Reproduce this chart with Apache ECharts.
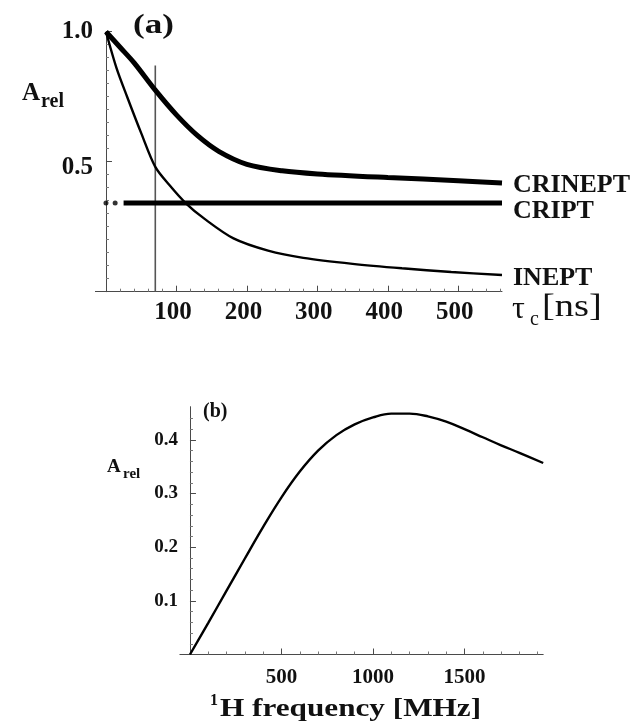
<!DOCTYPE html>
<html>
<head>
<meta charset="utf-8">
<script src="https://cdn.jsdelivr.net/npm/echarts@6/dist/echarts.min.js"></script>
<style>
  html, body { margin: 0; padding: 0; background: #fff; }
  #chart { width: 641px; height: 727px; }
</style>
</head>
<body>
<div id="chart"></div>
<script>
// ---- Panel (a): relative transfer amplitude vs. rotational correlation time ----
const tauIneptNs   = [0, 15, 30, 50, 70, 90, 113, 140, 181, 230, 280, 350, 420, 490, 562];
const ineptArel    = [1.0, 0.86, 0.75, 0.61, 0.48, 0.41, 0.341, 0.28, 0.205, 0.158, 0.13, 0.107, 0.09, 0.076, 0.064];
const tauCrineptNs = [0, 20, 40, 70, 100, 130, 160, 200, 250, 300, 400, 500, 562];
const crineptArel  = [1.0, 0.94, 0.88, 0.775, 0.68, 0.60, 0.54, 0.49, 0.465, 0.453, 0.439, 0.427, 0.418];
const criptArel    = 0.341;
const criptSolidNs = [25, 562];
const criptDotNs   = [0, 13];
const markerTauNs  = 70;
const markerTop    = 0.87;
const tauMajor     = [100, 200, 300, 400, 500];
const tauMinor     = [20, 40, 60, 80, 120, 140, 160, 180, 220, 240, 260, 280, 320, 340, 360, 380, 420, 440, 460, 480, 520, 540, 560];
const arelAMajor   = [0.5, 1.0];
const arelAMinor   = [0.05, 0.1, 0.15, 0.2, 0.25, 0.3, 0.35, 0.4, 0.45, 0.55, 0.6, 0.65, 0.7, 0.75, 0.8, 0.85, 0.9, 0.95];

// ---- Panel (b): relative amplitude vs. 1H frequency ----
const freqMHz  = [0, 100, 200, 300, 400, 500, 600, 700, 800, 900, 1000, 1100, 1200, 1300, 1400, 1500, 1600, 1700, 1800, 1930];
const arelFreq = [0, 0.059, 0.119, 0.179, 0.238, 0.293, 0.341, 0.38, 0.409, 0.429, 0.442, 0.449, 0.449, 0.444, 0.434, 0.42, 0.405, 0.39, 0.376, 0.357];
const freqMajor = [500, 1000, 1500];
const freqMinor = [100, 200, 300, 400, 600, 700, 800, 900, 1100, 1200, 1300, 1400, 1600, 1700, 1800, 1900];
const arelBMajor = [0.1, 0.2, 0.3, 0.4];
const arelBMinor = [0.02, 0.04, 0.06, 0.08, 0.12, 0.14, 0.16, 0.18, 0.22, 0.24, 0.26, 0.28, 0.32, 0.34, 0.36, 0.38, 0.42, 0.44];

const SERIF = '"Liberation Serif", "Times New Roman", serif';
const AXIS_COLOR = '#4a4a4a';
const zip = (xs, ys) => xs.map((x, i) => [x, ys[i]]);

function valueAxis(grid, min, max, majors, minors, labelSize, margin, fmt, extra) {
  // major ticks + labels, then a second overlay axis carrying the minor ticks
  const label = Object.assign({
    show: true, customValues: majors, margin: margin, formatter: fmt,
    fontFamily: SERIF, fontWeight: 'bold', fontSize: labelSize, color: '#111',
    showMinLabel: true, showMaxLabel: true
  }, extra || {});
  return [
    {
      gridIndex: grid, type: 'value', min: min, max: max,
      axisLine: { show: true, onZero: true, lineStyle: { color: AXIS_COLOR, width: 1 } },
      axisTick: { show: true, inside: true, length: 6, customValues: majors, lineStyle: { color: AXIS_COLOR, width: 1 } },
      axisLabel: label,
      splitLine: { show: false }
    },
    {
      gridIndex: grid, type: 'value', min: min, max: max,
      axisLine: { show: false, onZero: true },
      axisTick: { show: true, inside: true, length: 3, customValues: minors, lineStyle: { color: '#777', width: 1 } },
      axisLabel: { show: false },
      splitLine: { show: false }
    }
  ];
}

const lowLabel = { rich: { lo: { fontFamily: SERIF, fontWeight: 'bold', fontSize: 25, color: '#111', padding: [12, 0, 0, 0] } } };
// y labels are laid out from the grid edge, while the axis line sits on x = 0
const xA = valueAxis(0, -15, 562, tauMajor, tauMinor, 25, 8, v => String(v), { padding: [0, 7, 0, 0] });
const yA = valueAxis(0, 0, 1.0, arelAMajor, arelAMinor, 25, 2.5,
  v => (v < 1 ? '{lo|' + v.toFixed(1) + '}' : v.toFixed(1)), lowLabel);
const xB = valueAxis(1, -55, 1930, freqMajor, freqMinor, 21, 13, v => String(v));
const yB = valueAxis(1, 0, 0.462, arelBMajor, arelBMinor, 19, 2, v => v.toFixed(1));
[...xA, ...xB].forEach(a => { a.position = 'bottom'; });
[...yA, ...yB].forEach(a => { a.position = 'left'; });

const endLabel = (dy) => ({
  show: true, formatter: p => p.seriesName, distance: 11, offset: [0, dy],
  fontFamily: SERIF, fontWeight: 'bold', fontSize: 26, color: '#111'
});

const chart = echarts.init(document.getElementById('chart'), null, { renderer: 'canvas' });

chart.setOption({
  animation: false,
  backgroundColor: '#ffffff',
  grid: [
    { left: 95.4, top: 31.7, width: 406.6, height: 260, containLabel: false, outerBoundsMode: 'none' },
    { left: 179.9, top: 406.7, width: 363.3, height: 247.8, containLabel: false, outerBoundsMode: 'none' }
  ],
  xAxis: [...xA, ...xB],
  yAxis: [...yA, ...yB],
  series: [
    {
      name: 'marker', type: 'line', xAxisIndex: 0, yAxisIndex: 0,
      data: [[markerTauNs, 0], [markerTauNs, markerTop]],
      symbol: 'none', lineStyle: { color: '#555', width: 1.6 }, z: 1
    },
    {
      name: 'CRINEPT', type: 'line', xAxisIndex: 0, yAxisIndex: 0,
      data: zip(tauCrineptNs, crineptArel), smooth: 0.3,
      symbol: 'none', lineStyle: { color: '#000', width: 5 },
      endLabel: endLabel(2), z: 3
    },
    {
      name: 'CRIPT', type: 'line', xAxisIndex: 0, yAxisIndex: 0,
      data: criptSolidNs.map(t => [t, criptArel]),
      symbol: 'none', lineStyle: { color: '#000', width: 5 },
      endLabel: endLabel(8), z: 3
    },
    {
      name: 'CRIPT dots', type: 'scatter', xAxisIndex: 0, yAxisIndex: 0,
      data: criptDotNs.map(t => [t, criptArel]),
      symbol: 'circle', symbolSize: 5, itemStyle: { color: '#000' }, z: 3
    },
    {
      name: 'INEPT', type: 'line', xAxisIndex: 0, yAxisIndex: 0,
      data: zip(tauIneptNs, ineptArel), smooth: 0.3,
      symbol: 'none', lineStyle: { color: '#000', width: 2.4 },
      endLabel: endLabel(3), z: 3
    },
    {
      name: 'Arel(freq)', type: 'line', xAxisIndex: 2, yAxisIndex: 2,
      data: zip(freqMHz, arelFreq), smooth: 0.4,
      symbol: 'none', lineStyle: { color: '#000', width: 2.4 }, z: 3
    }
  ],
  graphic: [
    { type: 'text', left: 133, top: 13, scaleX: 1.3, style: { text: '(a)', font: 'bold 27px ' + SERIF, fill: '#111' } },
    { type: 'text', left: 22, top: 81, style: { text: 'A', font: 'bold 25px ' + SERIF, fill: '#111' } },
    { type: 'text', left: 41, top: 92, style: { text: 'rel', font: 'bold 20px ' + SERIF, fill: '#111' } },
    { type: 'text', left: 512, top: 294, style: { text: 'τ', font: '32px ' + SERIF, fill: '#111' } },
    { type: 'text', left: 530, top: 310, style: { text: 'c', font: '20px ' + SERIF, fill: '#111' } },
    { type: 'text', left: 542, top: 292, scaleX: 1.2, style: { text: '[ns]', font: '32px ' + SERIF, fill: '#111' } },
    { type: 'text', left: 203, top: 402, style: { text: '(b)', font: 'bold 20px ' + SERIF, fill: '#111' } },
    { type: 'text', left: 107, top: 458, style: { text: 'A', font: 'bold 19px ' + SERIF, fill: '#111' } },
    { type: 'text', left: 123, top: 467, style: { text: 'rel', font: 'bold 15px ' + SERIF, fill: '#111' } },
    { type: 'text', left: 210, top: 693, style: { text: '1', font: 'bold 16px ' + SERIF, fill: '#111' } },
    { type: 'text', left: 220, top: 696, scaleX: 1.2, style: { text: 'H frequency [MHz]', font: 'bold 26px ' + SERIF, fill: '#111' } }
  ]
});
</script>
</body>
</html>
